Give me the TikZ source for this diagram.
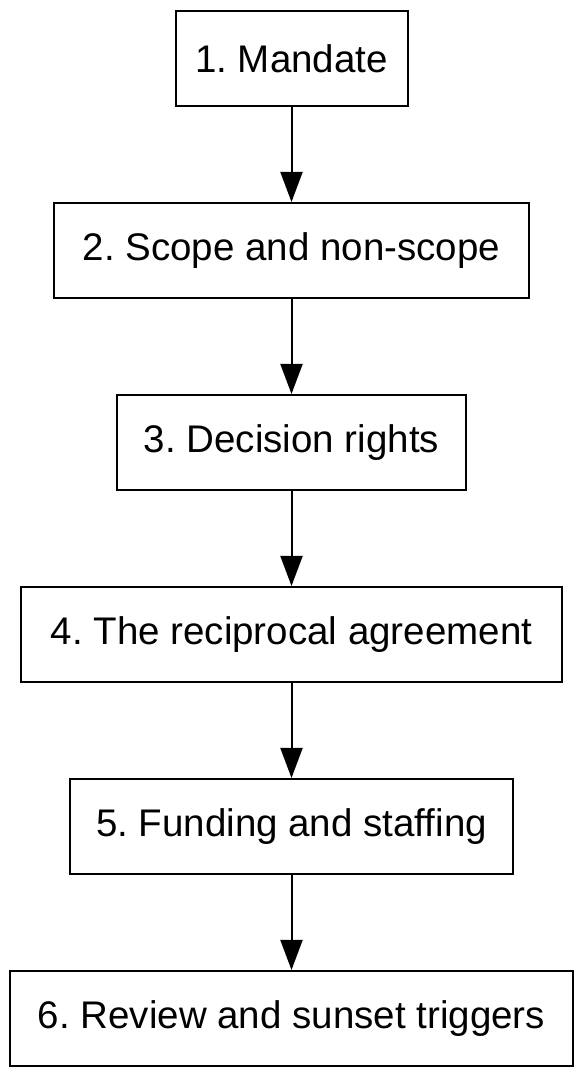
\documentclass[tikz,border=0pt]{standalone}
\usepackage{fontspec}
\setmainfont{Liberation Sans}
\usetikzlibrary{arrows.meta}
\frenchspacing
\begin{document}
\begin{tikzpicture}[x=1pt,y=1pt,
  stepbox/.style={draw=black, line width=2pt, minimum height=95pt, inner sep=0pt,
    font=\fontsize{38.5}{46}\selectfont, text=black},
  flow/.style={draw=black, line width=2pt, -{Triangle[length=30pt,width=22pt]}}]
\useasboundingbox (0,0) rectangle (584,1077);
\node[stepbox, minimum width=232pt] (n1) at (291.5,1018.5) {1. Mandate};
\node[stepbox, minimum width=475pt] (n2) at (291.5,826.5) {2. Scope and non-scope};
\node[stepbox, minimum width=349pt] (n3) at (291.5,634.5) {3. Decision rights};
\node[stepbox, minimum width=541pt] (n4) at (291.5,442.5) {4. The reciprocal agreement};
\node[stepbox, minimum width=443pt] (n5) at (291.5,250.5) {5. Funding and staffing};
\node[stepbox, minimum width=563pt] (n6) at (291.5,58.5) {6. Review and sunset triggers};
\draw[flow] (n1.south) -- (n2.north);
\draw[flow] (n2.south) -- (n3.north);
\draw[flow] (n3.south) -- (n4.north);
\draw[flow] (n4.south) -- (n5.north);
\draw[flow] (n5.south) -- (n6.north);
\end{tikzpicture}
\end{document}
